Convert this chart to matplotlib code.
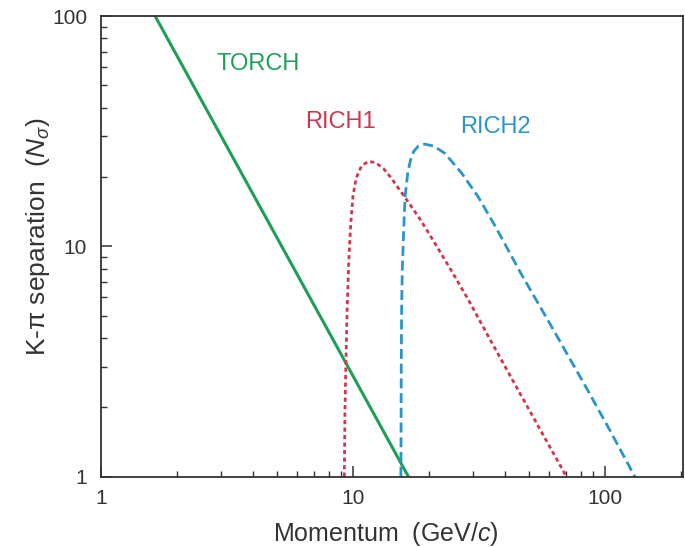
import matplotlib
matplotlib.use("Agg")
import matplotlib.pyplot as plt

plt.rcParams['font.family'] = ['Liberation Sans', 'DejaVu Sans']
plt.rcParams['mathtext.fontset'] = 'custom'
plt.rcParams['mathtext.rm'] = 'Liberation Sans'
plt.rcParams['mathtext.it'] = 'Liberation Sans:italic'

# TORCH: straight line in log-log
torch_p = [1.64, 16.6]
torch_n = [100, 1.0]

# RICH1
rich1_p = [9.24, 9.30, 9.38, 9.48, 9.62, 9.80, 10.0, 10.3, 10.8, 11.5, 12.3,
           13.2, 14.2, 15.2, 16.1, 18.4, 19.9, 22.0, 25.0, 29.0, 33.9, 46.0, 58.0, 70.4]
rich1_n = [1.0, 2.0, 3.2, 5.3, 8.5, 12.5, 16.5, 19.8, 22.3, 23.4, 23.1,
           21.8, 19.8, 17.8, 16.3, 13.2, 11.5, 9.6, 7.6, 5.75, 4.2, 2.3, 1.46, 1.0]

# RICH2
rich2_p = [15.5, 15.55, 15.6, 15.7, 15.9, 16.1, 16.5, 16.9, 17.4, 18.2, 19.3,
           21.0, 23.2, 27.0, 31.4, 36.6, 46.5, 62.4, 84.6, 105.0, 131.5]
rich2_n = [1.0, 3.0, 5.3, 8.0, 11.8, 16.4, 20.8, 23.6, 25.8, 27.3, 27.8,
           27.2, 25.3, 20.8, 16.4, 12.3, 7.6, 4.35, 2.42, 1.58, 1.0]

green = '#1f9e58'
red = '#d1364e'
blue = '#2a95c9'

fig = plt.figure(figsize=(6.85, 5.47), dpi=100)
ax = fig.add_axes([0.1474, 0.1285, 0.8496, 0.8422])

ax.plot(torch_p, torch_n, color=green, lw=2.2, solid_capstyle='butt')
ax.plot(rich1_p, rich1_n, color=red, lw=2.0, dashes=(1.5, 1.2))
ax.plot(rich2_p, rich2_n, color=blue, lw=2.0, dashes=(3.6, 1.7))

ax.set_xscale('log')
ax.set_yscale('log')
ax.set_xlim(1, 204)
ax.set_ylim(1, 100)

ax.set_xticks([1, 10, 100])
ax.set_xticklabels(['1', '10', '100'])
ax.set_yticks([1, 10, 100])
ax.set_yticklabels(['1', '10', '100'])

ax.tick_params(which='both', direction='in', colors='#333333', labelcolor='#333333',
               top=False, right=False)
ax.tick_params(which='major', length=8, width=1.1, labelsize=15)
ax.tick_params(axis='y', which='major', pad=10)
ax.tick_params(axis='x', which='major', pad=9)
ax.tick_params(which='minor', length=4.5, width=1.0)
for s in ax.spines.values():
    s.set_color('#333333')
    s.set_linewidth(1.3)

ax.set_xlabel(r'Momentum  (GeV/$c$)', fontsize=18, color='#333333')
ax.set_ylabel(r'K-π separation  ($N_{\sigma}$)', fontsize=19, color='#333333')
ax.xaxis.set_label_coords(0.49, -0.093)
ax.yaxis.set_label_coords(-0.084, 0.52)

ax.text(0.270, 0.896, 'TORCH', transform=ax.transAxes, color=green,
        fontsize=17, ha='center', va='center')
ax.text(0.411, 0.770, 'RICH1', transform=ax.transAxes, color=red,
        fontsize=17, ha='center', va='center')
ax.text(0.677, 0.759, 'RICH2', transform=ax.transAxes, color=blue,
        fontsize=17, ha='center', va='center')

fig.savefig('out.png', dpi=100)
